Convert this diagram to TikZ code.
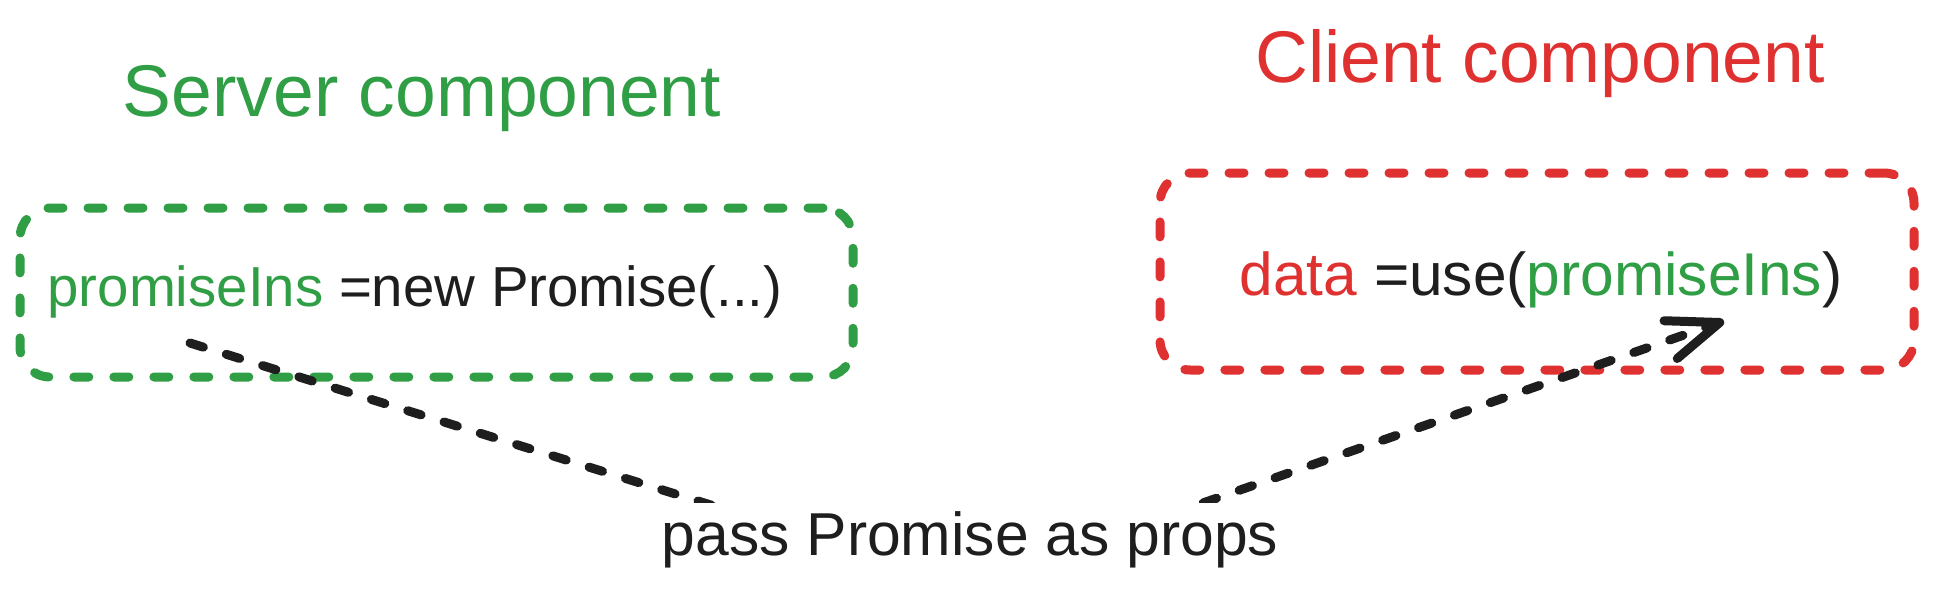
\documentclass[tikz,border=0pt]{standalone}
\usepackage{fontspec}
\setmainfont{Liberation Sans}
\usepackage{tikz}
\usetikzlibrary{arrows.meta}
\definecolor{sgreen}{HTML}{2F9E44}
\definecolor{cred}{HTML}{E03131}
\definecolor{ink}{HTML}{1E1E1E}

\begin{document}
\begin{tikzpicture}[x=0.5pt,y=-0.5pt,dash box/.style={draw,rounded corners=15pt,line width=4.5pt,line cap=round,dash pattern=on 7.5pt off 12.5pt,inner sep=0pt}]
            \tikzstyle{title node}=[anchor=base,inner sep=0pt,font=\fontsize{36.6}{44}\selectfont]
            \tikzstyle{code node}=[anchor=base,inner sep=0pt,text=ink]
            \tikzstyle{flow line}=[draw=ink,line width=4.5pt,line cap=round,line join=round,dash pattern=on 7pt off 12pt,-{Straight Barb[length=26pt,width=20pt,round]}]
            \useasboundingbox[fill=white] (0,0) rectangle (1934,595);
            \node(st)[title node,text=sgreen] at (422,116) {Server component};
            \node(ct)[title node,text=cred] at (1540,82) {Client component};
            \node(sbox)[dash box,draw=sgreen,minimum width=416.5pt,minimum height=84.5pt] at (436.5,292.5) {};
            \node(cbox)[dash box,draw=cred,minimum width=377pt,minimum height=98.5pt] at (1537,271.5) {};
            \node(scode)[code node,font=\fontsize{28.2}{34}\selectfont] at (415,306) {\textcolor{sgreen}{promiseIns} =new Promise(...)};
            \node(ccode)[code node,font=\fontsize{30.2}{36}\selectfont] at (1541,295) {\textcolor{cred}{data} =use(\textcolor{sgreen}{promiseIns})};
            \coordinate(from) at (190,343);
            \coordinate(bend) at (968,585);
            \coordinate(to) at (1724,321);
            \draw[flow line] (from) -- (bend) -- (to);
            \node(pass)[code node,fill=white,text height=26pt,text depth=22pt,font=\fontsize{30.3}{36}\selectfont] at (970,555) {pass Promise as props};
          \end{tikzpicture}
\end{document}
